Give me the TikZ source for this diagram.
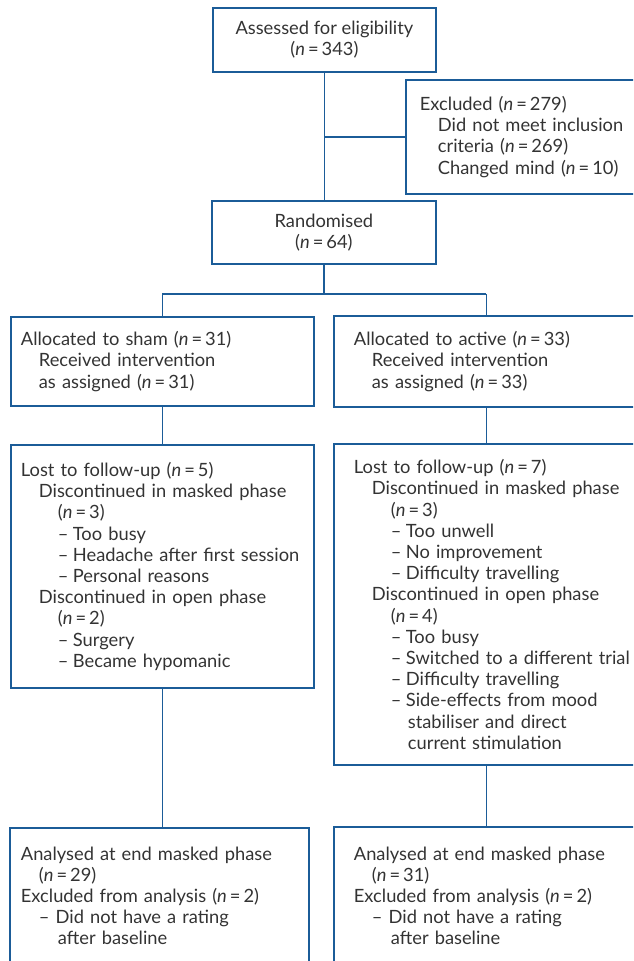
\documentclass[tikz,border=0pt]{standalone}
\usepackage{fontspec}
\setmainfont{Lato}
\usepackage{tikz}

\definecolor{flowblue}{HTML}{1B5C98}
\definecolor{textgrey}{HTML}{333333}

\newcommand{\nn}{{\itshape n}\,=\,}
\newcommand{\indA}{\hspace*{18pt}}
\newcommand{\indB}{\hspace*{37pt}}
\newcommand{\dashitem}{\indB\makebox[15pt][l]{--}}
\newcommand{\contitem}{\indB\hspace*{17pt}}

\tikzset{
  box/.style={draw=flowblue, line width=1.8pt, rectangle, anchor=north west,
    text=textgrey, align=left, inner ysep=0pt,
    font=\fontsize{18.3}{21.2}\selectfont},
  openbox/.style={box, draw=none},
  link/.style={draw=flowblue, line width=1.8pt},
}

\begin{document}
\begin{tikzpicture}[x=1pt,y=-1pt]
			\useasboundingbox (0,0) rectangle (633,961);
			\clip (0,0) rectangle (633,961);

			% Enrolment
			\node[box, align=center, minimum width=223pt, minimum height=64pt] (assess) at (212,7)
			  {Assessed for eligibility\\(\nn343)};
			\node[openbox, inner xsep=13pt, text width=260pt, minimum height=112pt] (excl) at (406,80)
			  {Excluded (\nn279)\\ \indA Did not meet inclusion\\ \indA criteria (\nn269)\\ \indA Changed mind (\nn10)};
			\node[box, align=center, minimum width=224pt, minimum height=63pt] (rand) at (211,200)
			  {Randomised\\(\nn64)};

			% Allocation
			\node[box, inner xsep=10pt, text width=283pt, minimum height=89pt] (sham) at (10,316)
			  {Allocated to sham (\nn31)\\ \indA Received intervention\\ \indA as assigned (\nn31)};
			\node[openbox, inner xsep=19pt, text width=265pt, minimum height=89pt] (active) at (334,316)
			  {Allocated to active (\nn33)\\ \indA Received intervention\\ \indA as assigned (\nn33)};

			% Follow-up
			\node[box, inner xsep=10pt, text width=283pt, minimum height=243pt] (lostsham) at (10,444)
			  {Lost to follow-up (\nn5)\\
			   \indA Discontinued in masked phase\\
			   \indB(\nn3)\\
			   \dashitem Too busy\\
			   \dashitem Headache after first session\\
			   \dashitem Personal reasons\\
			   \indA Discontinued in open phase\\
			   \indB(\nn2)\\
			   \dashitem Surgery\\
			   \dashitem Became hypomanic};
			\node[openbox, inner xsep=19pt, text width=265pt, minimum height=319pt] (lostact) at (334,444)
			  {Lost to follow-up (\nn7)\\
			   \indA\mbox{Discontinued in masked phase}\\
			   \indB(\nn3)\\
			   \dashitem Too unwell\\
			   \dashitem No improvement\\
			   \dashitem Difficulty travelling\\
			   \indA Discontinued in open phase\\
			   \indB(\nn4)\\
			   \dashitem Too busy\\
			   \dashitem\mbox{Switched to a different trial}\\
			   \dashitem Difficulty travelling\\
			   \dashitem Side-effects from mood\\
			   \contitem stabiliser and direct\\
			   \contitem current stimulation};

			% Analysis
			\node[box, inner xsep=11pt, text width=277pt, minimum height=136pt] (anasham) at (9,827)
			  {Analysed at end masked phase\\
			   \indA(\nn29)\\
			   Excluded from analysis (\nn2)\\
			   \indA -- Did not have a rating\\
			   \indA\hspace*{19pt}after baseline};
			\node[openbox, inner xsep=19pt, text width=265pt, minimum height=136pt] (anaact) at (334,827)
			  {Analysed at end masked phase\\
			   \indA(\nn31)\\
			   Excluded from analysis (\nn2)\\
			   \indA -- Did not have a rating\\
			   \indA\hspace*{19pt}after baseline};

			% Boxes cut by the right edge
			\foreach \b in {excl,active,lostact,anaact}
			  \draw[link] (\b.north east) -- (\b.north west) -- (\b.south west) -- (\b.south east);

			% Connectors
			\draw[link] (assess.south) -- (assess.south |- rand.north);
			\draw[link] (assess.south |- excl.west) -- (excl.west);
			\draw[link] (rand.south) -- ++(0,29) coordinate (split);
			\draw[link] (split -| sham.north) -- (split -| active.north);
			\draw[link] (split -| sham.north) -- (sham.north);
			\draw[link] (split -| active.north) -- (active.north);
			\draw[link] (sham.south) -- (lostsham.north);
			\draw[link] (active.south) -- (lostact.north);
			\draw[link] (lostsham.south) -- (lostsham.south |- anasham.north);
			\draw[link] (lostact.south) -- (lostact.south |- anaact.north);

		\end{tikzpicture}
\end{document}
